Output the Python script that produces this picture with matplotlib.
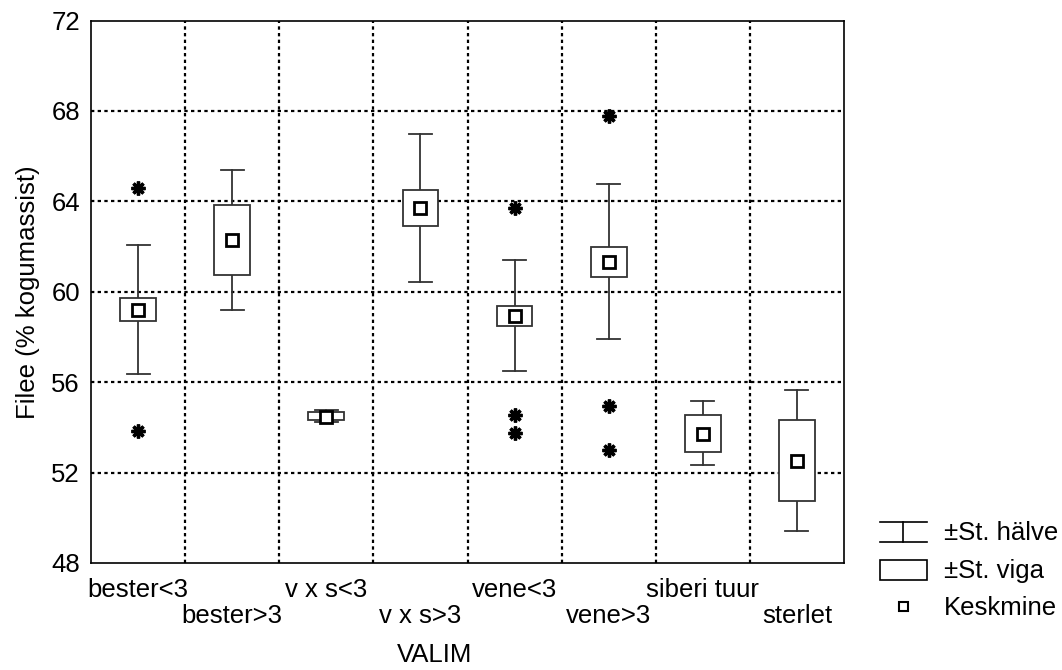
import matplotlib.pyplot as plt
from matplotlib.patches import Rectangle
from matplotlib.lines import Line2D

plt.rcParams['font.family'] = ['Liberation Sans', 'DejaVu Sans']

groups = ["bester<3", "bester>3", "v x s<3", "v x s>3",
          "vene<3", "vene>3", "siberi tuur", "sterlet"]
means = [59.21, 62.27, 54.48, 63.71, 58.93, 61.30, 53.72, 52.50]
se_low = [58.69, 60.74, 54.32, 62.92, 58.47, 60.67, 52.91, 50.73]
se_high = [59.72, 63.85, 54.66, 64.52, 59.39, 61.99, 54.56, 54.34]
sd_low = [56.37, 59.18, 54.22, 60.45, 56.49, 57.91, 52.32, 49.40]
sd_high = [62.05, 65.40, 54.78, 66.97, 61.39, 64.76, 55.16, 55.66]
outlier_x = [0, 0, 4, 4, 4, 5, 5, 5]
outlier_y = [64.6, 53.85, 63.71, 54.56, 53.76, 67.8, 54.95, 53.0]

fs = 18.5
fig = plt.figure(figsize=(10.62, 6.70), dpi=100)
ax = fig.add_axes([91/1062, 1 - 563/670, (844 - 91)/1062, (563 - 20.6)/670])

box_w = 0.38
cap_w = 0.245
edge = '#333333'
for i in range(len(groups)):
    ax.plot([i, i], [sd_low[i], sd_high[i]], color=edge, lw=1.3, zorder=3)
    for yv in (sd_low[i], sd_high[i]):
        ax.plot([i - cap_w/2, i + cap_w/2], [yv, yv], color=edge, lw=1.3, zorder=3)
    ax.add_patch(Rectangle((i - box_w/2, se_low[i]), box_w, se_high[i] - se_low[i],
                           facecolor='white', edgecolor=edge, lw=1.3, zorder=4))
ax.plot(range(len(groups)), means, ls='none', marker='s', markersize=8,
        markerfacecolor='white', markeredgecolor='black', markeredgewidth=2, zorder=5)
ax.plot(outlier_x, outlier_y, ls='none', marker=(8, 2, 0), markersize=10,
        markeredgecolor='black', markeredgewidth=2.4, zorder=5)

ax.set_xlim(-0.5, len(groups) - 0.5)
ax.set_ylim(48, 72)
ax.set_yticks([48, 52, 56, 60, 64, 68, 72])
ax.set_xticks(range(len(groups)))
ax.set_xticklabels([g if i % 2 == 0 else "\n" + g for i, g in enumerate(groups)],
                   linespacing=1.1)
ax.tick_params(length=0, labelsize=fs)
ax.tick_params(axis='x', pad=11)
ax.tick_params(axis='y', pad=8)
for x in range(1, len(groups)):
    ax.axvline(x - 0.5, color='black', ls=(0, (1.5, 1.5)), lw=1.6, zorder=1)
for yv in [52, 56, 60, 64, 68]:
    ax.axhline(yv, color='black', ls=(0, (1.5, 1.5)), lw=1.6, zorder=1)
for s in ax.spines.values():
    s.set_color('black')
    s.set_linewidth(1.2)

ax.set_ylabel("Filee (% kogumassist)", fontsize=fs, labelpad=8)
fig.text(435/1062, 1 - 655/670, "VALIM", fontsize=fs, ha='center', va='center')

# legend drawn in figure pixel coordinates
lg = fig.add_axes([0, 0, 1, 1], zorder=-1)
lg.set_xlim(0, 1062)
lg.set_ylim(670, 0)
lg.axis('off')
lg.add_line(Line2D([880, 927], [522, 522], color='black', lw=1.2))
lg.add_line(Line2D([880, 927], [542, 542], color='black', lw=1.2))
lg.add_line(Line2D([903, 903], [522, 542], color='black', lw=1.2))
lg.add_patch(Rectangle((880, 560), 47, 20, facecolor='white', edgecolor='black', lw=1.2))
lg.add_patch(Rectangle((899, 602), 9, 9, facecolor='white', edgecolor='black', lw=1.5))
for yy, txt in [(533, "±St. hälve"), (571, "±St. viga"), (608, "Keskmine")]:
    lg.text(944, yy, txt, fontsize=fs, va='center', ha='left')

fig.savefig("out.png", dpi=100)
